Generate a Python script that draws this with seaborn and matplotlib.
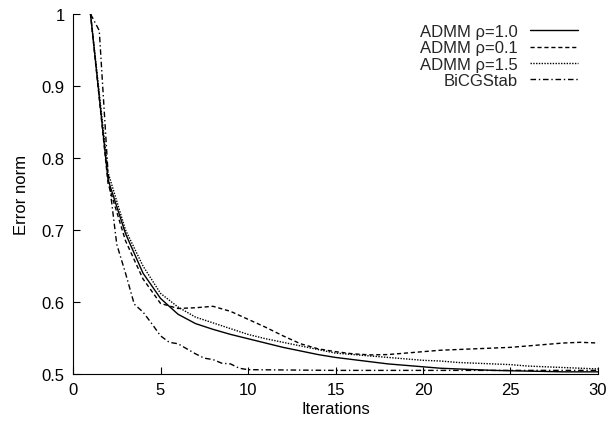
import matplotlib
matplotlib.use("Agg")
import matplotlib.pyplot as plt
import seaborn as sns
import pandas as pd

sns.set_theme(style="white")
plt.rcParams['font.family'] = ['Liberation Sans', 'DejaVu Sans']

iters = list(range(1, 31))
admm_10 = [1.0, 0.77, 0.695, 0.64, 0.605, 0.583, 0.570, 0.562, 0.555, 0.549,
           0.543, 0.537, 0.532, 0.527, 0.523, 0.520, 0.517, 0.514, 0.512, 0.510,
           0.508, 0.507, 0.506, 0.505, 0.5045, 0.504, 0.5035, 0.503, 0.503, 0.503]
admm_01 = [1.0, 0.765, 0.685, 0.632, 0.598, 0.591, 0.592, 0.594, 0.587, 0.576,
           0.565, 0.553, 0.542, 0.535, 0.531, 0.528, 0.5265, 0.527, 0.529, 0.531,
           0.533, 0.534, 0.535, 0.536, 0.537, 0.539, 0.541, 0.543, 0.544, 0.543]
admm_15 = [1.0, 0.78, 0.70, 0.65, 0.612, 0.593, 0.579, 0.571, 0.563, 0.555,
           0.549, 0.544, 0.539, 0.534, 0.529, 0.527, 0.525, 0.523, 0.521, 0.519,
           0.518, 0.516, 0.515, 0.514, 0.513, 0.511, 0.510, 0.509, 0.508, 0.507]
bicg_x = [1, 1.5, 2, 2.5, 3, 3.5, 4, 4.5, 5, 5.5, 6, 6.5, 7, 7.5, 8, 8.5, 9, 9.5,
          10, 15, 20, 25, 30]
bicg_y = [1.0, 0.977, 0.78, 0.68, 0.64, 0.597, 0.586, 0.57, 0.553, 0.544, 0.542,
          0.535, 0.528, 0.522, 0.520, 0.515, 0.514, 0.508, 0.506, 0.505, 0.505,
          0.505, 0.505]

xticks = [0, 5, 10, 15, 20, 25, 30]
yticks = [0.5, 0.6, 0.7, 0.8, 0.9, 1.0]
ytick_labels = ["0.5", "0.6", "0.7", "0.8", "0.9", "1"]

fig = plt.figure(figsize=(6.10, 4.27), dpi=100)
ax = fig.add_axes([0.1197, 0.1218, 0.8606, 0.8431])

series = [
    ("ADMM \u03c1=1.0", iters, admm_10, "-"),
    ("ADMM \u03c1=0.1", iters, admm_01, (0, (3, 2))),
    ("ADMM \u03c1=1.5", iters, admm_15, (0, (1, 1))),
    ("BiCGStab", bicg_x, bicg_y, (0, (4, 2, 1, 2))),
]
for name, xs, ys, ls in series:
    df = pd.DataFrame({"x": xs, "y": ys})
    sns.lineplot(data=df, x="x", y="y", ax=ax, color="black", linewidth=1.0,
                 linestyle=ls, label=name)

ax.set_xlim(0, 30)
ax.set_ylim(0.5, 1.0)
ax.set_xticks(xticks)
ax.set_xticklabels([str(t) for t in xticks])
ax.set_yticks(yticks)
ax.set_yticklabels(ytick_labels)
ax.tick_params(direction="in", length=5, width=0.8, colors="black",
               labelsize=12, left=True, bottom=True, pad=6)
for s in ["top", "right"]:
    ax.spines[s].set_visible(False)
for s in ["left", "bottom"]:
    ax.spines[s].set_color("black")
    ax.spines[s].set_linewidth(0.8)

ax.set_xlabel("Iterations", fontsize=12, color="black", labelpad=3)
ax.set_ylabel("Error norm", fontsize=12, color="black", labelpad=9)

leg = ax.legend(loc="upper right", bbox_to_anchor=(0.962, 0.972),
                frameon=False, markerfirst=False,
                fontsize=12, handlelength=2.9, labelspacing=0.08,
                borderaxespad=0.0, borderpad=0.0, handletextpad=0.7)

fig.savefig("out.png", dpi=100)
